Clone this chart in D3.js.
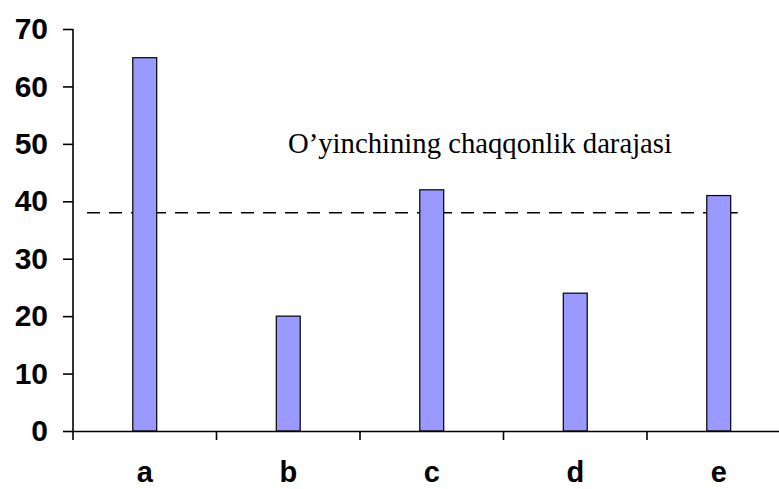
<!DOCTYPE html>
<html>
  <head>
    <meta charset="utf-8">
    <script src="https://d3js.org/d3.v7.min.js"></script>
    <style>
      body { margin: 0px; background: #fff; }
      .tick text, .cat-label {
        font-family: 'Liberation Sans', Arial, sans-serif;
        font-weight: bold;
        fill: #000;
      }
      .note {
        font-family: 'Liberation Serif', 'Times New Roman', serif;
        font-size: 28.7px;
        fill: #000;
      }
    </style>
  </head>
  <body>
    <svg width="779" height="489"></svg>
    <script>
      const categories = ['a', 'b', 'c', 'd', 'e'];
      const values = [65, 20, 42, 24, 41];
      const yTicks = [0, 10, 20, 30, 40, 50, 60, 70];
      const levelValue = 38;
      const levelLabel = 'O\u2019yinchining chaqqonlik darajasi';

      const svg = d3.select('svg');
      const x0 = 73, y0 = 431, yTop = 29;
      const band = 143.5;

      const xScale = d3.scaleBand()
        .domain(categories)
        .range([x0, x0 + band * categories.length])
        .padding(0);
      const yScale = d3.scaleLinear()
        .domain([0, 70])
        .range([y0, yTop]);

      const barW = xScale.bandwidth() / 6;

      // dashed level line
      svg.append('line')
        .attr('x1', x0 + 14)
        .attr('x2', xScale('e') + xScale.bandwidth() / 2 + 19)
        .attr('y1', yScale(levelValue))
        .attr('y2', yScale(levelValue))
        .attr('stroke', '#000')
        .attr('stroke-width', 1.6)
        .attr('stroke-dasharray', '13,9');

      // bars
      svg.selectAll('rect.bar').data(values)
        .enter().append('rect')
          .attr('class', 'bar')
          .attr('x', (d, i) => xScale(categories[i]) + xScale.bandwidth() / 2 - barW / 2)
          .attr('y', d => yScale(d))
          .attr('width', barW)
          .attr('height', d => y0 - yScale(d))
          .attr('fill', '#9999ff')
          .attr('stroke', '#000')
          .attr('stroke-width', 1.2);

      // y axis
      const yAxis = d3.axisLeft(yScale)
        .tickValues(yTicks)
        .tickSize(10)
        .tickSizeOuter(0)
        .tickPadding(15);
      const yAxisG = svg.append('g')
        .attr('transform', `translate(${x0},0)`)
        .call(yAxis);
      yAxisG.select('.domain').remove();
      yAxisG.selectAll('.tick line').attr('stroke-width', 1.6);
      yAxisG.selectAll('.tick text').style('font-size', '30px');
      svg.append('line')
        .attr('x1', x0).attr('x2', x0)
        .attr('y1', yTop).attr('y2', y0 + 9)
        .attr('stroke', '#000').attr('stroke-width', 1.6);

      // x axis
      const xAxis = d3.axisBottom(xScale)
        .tickSize(0)
        .tickSizeOuter(0);
      const xAxisG = svg.append('g')
        .attr('transform', `translate(0,${y0})`)
        .call(xAxis);
      xAxisG.select('.domain').attr('stroke-width', 1.6);
      xAxisG.selectAll('.tick text')
        .attr('y', 51)
        .attr('dy', 0)
        .style('font-size', '29px');

      // boundary ticks
      const bounds = categories.map(c => xScale(c)).concat([xScale.range()[1]]);
      xAxisG.selectAll('line.bound').data(bounds.slice(1))
        .enter().append('line')
          .attr('class', 'bound')
          .attr('x1', d => d).attr('x2', d => d)
          .attr('y1', 0).attr('y2', 9)
          .attr('stroke', '#000')
          .attr('stroke-width', 1.6);

      svg.append('text')
        .attr('class', 'note')
        .attr('x', 288)
        .attr('y', 153)
        .text(levelLabel);
    </script>
  </body>
</html>
